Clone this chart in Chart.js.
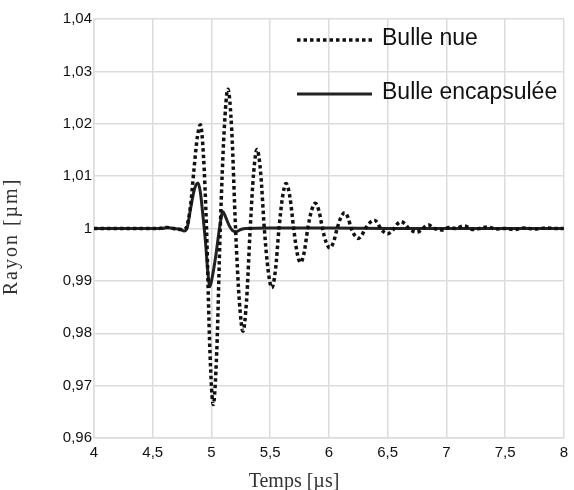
<!DOCTYPE html>
<html>
<head>
<meta charset="utf-8">
<script src="https://cdn.jsdelivr.net/npm/chart.js@4"></script>
<style>
  html, body { margin: 0; padding: 0; background: #fff; }
  #wrap { width: 574px; height: 490px; position: relative; }
</style>
</head>
<body>
<div id="wrap"><canvas id="myChart"></canvas></div>
<script>
// Bulle nue (dotted)
const nueTemps = [4.00, 4.20, 4.40, 4.55, 4.62, 4.68, 4.74, 4.78, 4.82, 4.85, 4.88, 4.906, 4.932, 4.958,
  4.987, 5.015, 5.045, 5.075, 5.108, 5.140, 5.173, 5.205, 5.237, 5.268, 5.299, 5.330, 5.359, 5.388, 5.419,
  5.450, 5.482, 5.514, 5.545, 5.575, 5.605, 5.635, 5.668, 5.700, 5.729, 5.758, 5.789, 5.820, 5.852, 5.884,
  5.915, 5.945, 5.976, 6.007, 6.039, 6.070, 6.102, 6.134, 6.162, 6.190, 6.219, 6.248, 6.279, 6.310, 6.348,
  6.385, 6.413, 6.440, 6.470, 6.500, 6.528, 6.555, 6.584, 6.613, 6.647, 6.680, 6.713, 6.746, 6.773, 6.800,
  6.845, 6.90, 6.97, 7.02, 7.08, 7.15, 7.23, 7.30, 7.35, 7.42, 7.50, 7.58, 7.66, 7.75, 7.85, 7.93, 8.00];
const nueRayon = [1.0000, 1.0000, 1.0000, 1.0000, 1.0002, 1.0000, 0.9998, 1.0000, 1.0040, 1.0110, 1.0175, 1.0198, 1.0139, 1.0000,
  0.9765, 0.9664, 0.9765, 1.0000, 1.0186, 1.0266, 1.0186, 1.0000, 0.9863, 0.9804, 0.9863, 1.0000, 1.0106, 1.0151, 1.0106,
  1.0000, 0.9921, 0.9887, 0.9921, 1.0000, 1.0060, 1.0086, 1.0060, 1.0000, 0.9954, 0.9935, 0.9954, 1.0000, 1.0034, 1.0048,
  1.0034, 1.0000, 0.9974, 0.9963, 0.9974, 1.0000, 1.0021, 1.0030, 1.0021, 1.0000, 0.9987, 0.9981, 0.9987, 1.0000, 1.0011,
  1.0016, 1.0011, 1.0000, 0.9993, 0.9990, 0.9993, 1.0000, 1.0009, 1.0013, 1.0009, 1.0000, 0.9995, 0.9993, 0.9995, 1.0000,
  1.0007, 1.0000, 0.9997, 1.0002, 1.0000, 1.0005, 0.9998, 1.0001, 1.0003, 0.9999, 1.0000, 0.9998, 1.0001, 0.9999, 1.0001, 1.0000, 1.0000];

// Bulle encapsulée (solid)
const encTemps = [4.00, 4.40, 4.58, 4.625, 4.67, 4.74, 4.767, 4.79, 4.82, 4.855, 4.886, 4.905, 4.925, 4.95,
  4.97, 4.987, 5.005, 5.035, 5.07, 5.097, 5.12, 5.15, 5.18, 5.21, 5.25, 5.29, 5.50, 6.00, 6.50, 7.00, 7.50, 8.00];
const encRayon = [1.0000, 1.0000, 1.0000, 1.0002, 1.0000, 0.9998, 0.9995, 0.9999, 1.0035, 1.0075, 1.0087, 1.0070, 1.0030, 0.9972,
  0.9915, 0.9889, 0.9905, 0.9945, 1.0003, 1.0032, 1.0022, 1.0006, 0.9996, 0.9994, 0.9998, 1.0000, 1.0001, 1.0001, 1.0000, 1.0000, 1.0000, 1.0000];

const xTickLabels = ['4', '4,5', '5', '5,5', '6', '6,5', '7', '7,5', '8'];
const yTickLabels = ['0,96', '0,97', '0,98', '0,99', '1', '1,01', '1,02', '1,03', '1,04'];
const xTitle = 'Temps [µs]';
const yTitle = 'Rayon [µm]';

const toPoints = (xs, ys) => xs.map((x, i) => ({ x: x, y: ys[i] }));

const gridColor = '#dcdcdc';
const tickFont = { family: '"Liberation Sans", Arial, sans-serif', size: 15 };
const serif = '20px "Liberation Serif", "Times New Roman", serif';

// legend drawn inside the plot area, top right
const insideLegend = {
  id: 'insideLegend',
  afterDatasetsDraw(chart) {
    const { ctx, chartArea } = chart;
    const x0 = chartArea.left + 203;
    const rows = [21, 75];
    ctx.save();
    chart.data.datasets.forEach((ds, i) => {
      const y = chartArea.top + rows[i];
      ctx.beginPath();
      ctx.setLineDash(ds.borderDash || []);
      ctx.lineWidth = ds.borderWidth;
      ctx.strokeStyle = ds.borderColor;
      ctx.moveTo(x0, y);
      ctx.lineTo(x0 + 75, y);
      ctx.stroke();
      ctx.setLineDash([]);
      ctx.fillStyle = '#111';
      ctx.font = '23px "Liberation Sans", Arial, sans-serif';
      ctx.textBaseline = 'alphabetic';
      ctx.fillText(ds.label, x0 + 85, y + 5);
    });
    ctx.restore();
  }
};

// axis titles (serif, placed like the original figure)
const axisTitles = {
  id: 'axisTitles',
  afterDraw(chart) {
    const { ctx, chartArea } = chart;
    ctx.save();
    ctx.fillStyle = '#333';
    ctx.font = serif;
    ctx.textAlign = 'center';
    ctx.textBaseline = 'alphabetic';
    ctx.fillText(xTitle, 294, chart.height - 3);
    ctx.translate(17, (chartArea.top + chartArea.bottom) / 2 + 8);
    ctx.rotate(-Math.PI / 2);
    ctx.letterSpacing = '2px';
    ctx.fillText(yTitle, 0, 0);
    ctx.restore();
  }
};

const ctx = document.getElementById('myChart').getContext('2d');
new Chart(ctx, {
  type: 'line',
  data: {
    datasets: [
      {
        label: 'Bulle nue',
        data: toPoints(nueTemps, nueRayon),
        borderColor: '#111',
        borderWidth: 3.5,
        borderDash: [3.5, 3],
        pointRadius: 0,
        cubicInterpolationMode: 'monotone',
      },
      {
        label: 'Bulle encapsulée',
        data: toPoints(encTemps, encRayon),
        borderColor: '#222',
        borderWidth: 3,
        pointRadius: 0,
        cubicInterpolationMode: 'monotone',
      }
    ]
  },
  options: {
    responsive: true,
    maintainAspectRatio: false,
    animation: false,
    layout: { padding: { left: 0, top: 19, right: 7, bottom: 20 } },
    scales: {
      x: {
        type: 'linear',
        min: 4,
        max: 8,
        ticks: {
          stepSize: 0.5,
          color: '#111',
          font: tickFont,
          padding: 6,
          maxRotation: 0,
          callback: (v, i) => xTickLabels[i],
        },
        grid: { color: gridColor, lineWidth: 1.5, drawTicks: false },
        border: { color: gridColor, width: 1.5 },
        afterFit: (scale) => { scale.height = 32; },
      },
      y: {
        min: 0.96,
        max: 1.04,
        ticks: {
          stepSize: 0.01,
          color: '#111',
          font: tickFont,
          padding: 2,
          callback: (v, i) => yTickLabels[i],
        },
        grid: { color: gridColor, lineWidth: 1.5, drawTicks: false },
        border: { color: gridColor, width: 1.5 },
        afterFit: (scale) => { scale.width = 94; },
      }
    },
    plugins: {
      legend: { display: false },
      tooltip: { enabled: false },
    }
  },
  plugins: [insideLegend, axisTitles]
});
</script>
</body>
</html>
